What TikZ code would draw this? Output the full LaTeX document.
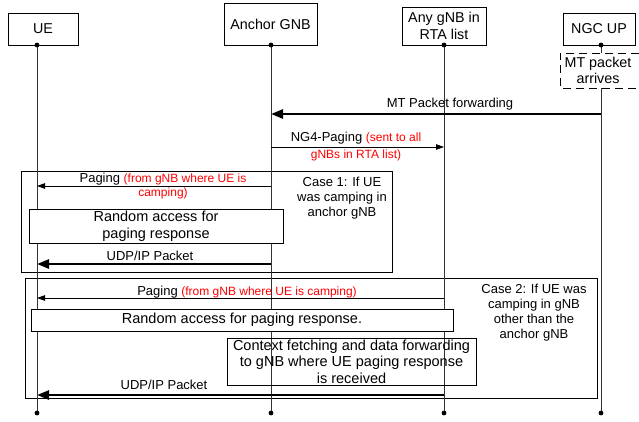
\documentclass[tikz,border=0pt]{standalone}
\usepackage{fontspec}
\setmainfont{Liberation Sans}
\usetikzlibrary{arrows.meta}
% red remark inside a message label
\newcommand\rtxt[1]{{\color{red}\fontsize{12}{14}\selectfont #1}}
\begin{document}
\begin{tikzpicture}[x=1pt,y=-1pt,
  font=\fontsize{13}{15.5}\selectfont,
  head/.style={draw, line width=0.8pt, align=center, inner sep=0pt, fill=white,
    font=\fontsize{14.3}{16.5}\selectfont},
  life/.style={line width=0.8pt, draw=black!80},
  dot/.style={fill=black},
  frame/.style={draw, line width=0.8pt},
  act/.style={draw, line width=0.8pt, fill=white, align=center, inner sep=0pt,
    font=\fontsize{14.5}{17}\selectfont},
  thinmsg/.style={line width=0.8pt, -{Triangle[length=8pt,width=5.5pt]}},
  thickmsg/.style={line width=2.6pt, -{Triangle[length=12pt,width=9pt]}},
  lbl/.style={align=center, inner sep=0pt},
  casetxt/.style={align=center, inner sep=0pt, font=\fontsize{13}{15}\selectfont}]
\useasboundingbox (0,0) rectangle (639,421);

% case frames
\node[frame, minimum width=371pt, minimum height=101pt, inner sep=0pt] (case1) at (206.5,221.5) {};
\node[frame, minimum width=572pt, minimum height=120pt, inner sep=0pt] (case2) at (311,338) {};

% participants
\node[head, minimum width=70pt, minimum height=32pt] (ue) at (43,29) {UE};
\node[head, minimum width=93pt, minimum height=42pt] (anchor) at (270.5,24) {Anchor GNB};
\node[head, minimum width=84pt, minimum height=38pt] (any) at (444,26) {Any gNB in\\RTA list};
\node[head, minimum width=72pt, minimum height=32pt] (ngc) at (599,29) {NGC UP};

% lifeline ends
\coordinate (ueT) at (37,45);      \coordinate (ueB) at (37,413);
\coordinate (anT) at (271,45);     \coordinate (anB) at (271,413);
\coordinate (anyT) at (444,45);    \coordinate (anyB) at (444,413);
\coordinate (ngT) at (601,45);     \coordinate (ngB) at (601,413);

\foreach \p in {ue,an,any,ng}{
  \draw[life] (\p T) -- (\p B);
  \fill[dot] (\p T) circle (2.4pt);
  \fill[dot] (\p B) circle (2.4pt);
}

% MT packet arrival note on the NGC UP lifeline
\fill[white] (560,53) rectangle (639,88);
\draw[line width=0.8pt, dash pattern=on 8pt off 5pt] (639,53) -- (560,53) -- (560,88) -- (639,88);
\node[lbl, font=\fontsize{14.3}{16.5}\selectfont] (arrive) at (598,70.5) {MT packet\\arrives};

% message rows
\coordinate (r1) at (0,114);
\coordinate (r2) at (0,147);
\coordinate (r3) at (0,186);
\coordinate (r4) at (0,264);
\coordinate (r5) at (0,298);
\coordinate (r6) at (0,395);

% activity boxes
\node[act, minimum width=254pt, minimum height=34pt] (ra1) at (156,226) {Random access for\\paging response};
\node[act, minimum width=422pt, minimum height=22pt] (ra2) at (242,320) {Random access for paging response.};
\node[draw, line width=0.8pt, minimum width=249pt, minimum height=47pt, align=center, inner sep=0pt,
  font=\fontsize{14.5}{16.5}\selectfont] (ctx) at (351.5,361.5) {Context fetching and data forwarding\\to gNB where UE paging response\\is received};

% messages
\draw[thickmsg] (ngT |- r1) -- (anT |- r1);
\node[lbl] (m1) at (450,104) {MT Packet forwarding};

\draw[thinmsg] (anT |- r2) -- (anyT |- r2);
\node[lbl, font=\fontsize{13}{16.5}\selectfont] (m2) at (356,146.5) {NG4-Paging \rtxt{(sent to all}\\\rtxt{gNBs in RTA list)}};

\draw[thinmsg] (anT |- r3) -- (ueT |- r3);
\node[lbl, font=\fontsize{13}{14}\selectfont] (m3) at (163,186) {Paging \rtxt{(from gNB where UE is}\\\rtxt{camping)}};

\draw[thickmsg] (anT |- r4) -- (ueT |- r4);
\node[lbl] (m4) at (150,256) {UDP/IP Packet};

\draw[thinmsg] (anyT |- r5) -- (ueT |- r5);
\node[lbl] (m5) at (247,292) {Paging \rtxt{(from gNB where UE is camping)}};

\draw[thickmsg] (anyT |- r6) -- (ueT |- r6);
\node[lbl] (m6) at (164,385) {UDP/IP Packet};

% case descriptions
\node[casetxt] (c1) at (342,198) {Case 1: If UE\\was camping in\\anchor gNB};
\node[casetxt] (c2) at (534,313) {Case 2: If UE was\\camping in gNB\\other than the\\anchor gNB};
\end{tikzpicture}
\end{document}
